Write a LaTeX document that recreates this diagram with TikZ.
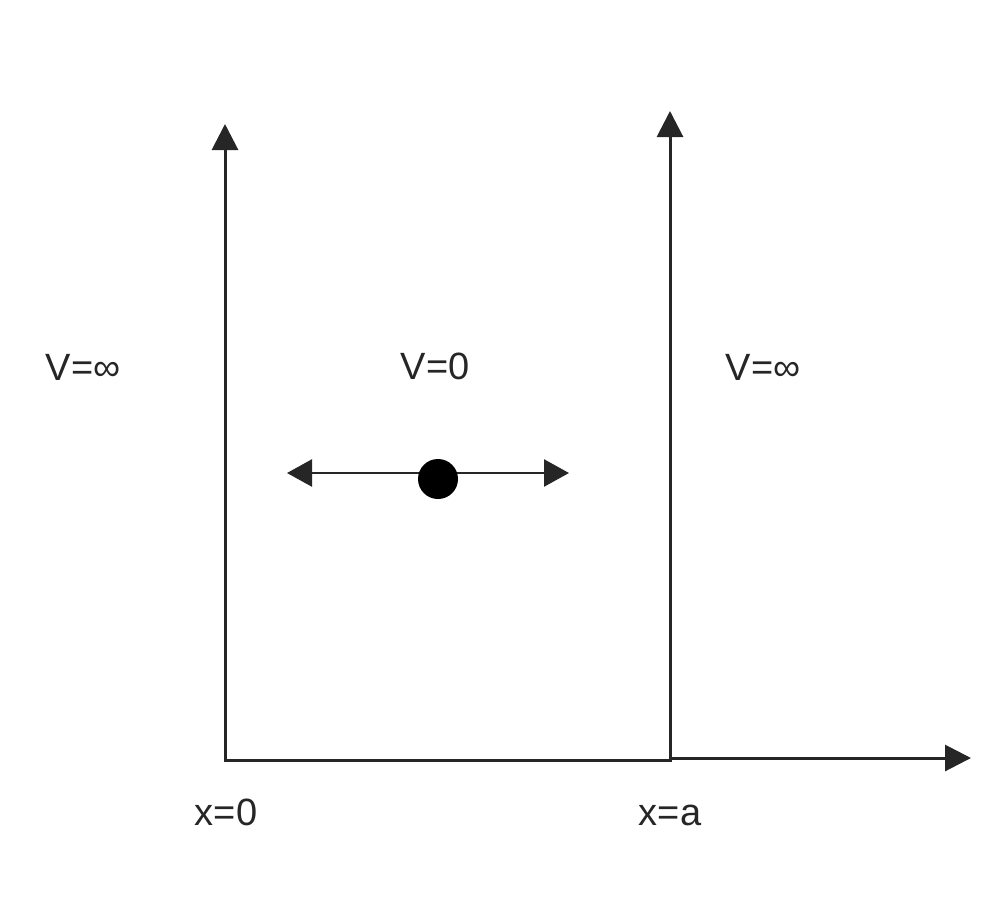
\documentclass[tikz,border=0pt]{standalone}
\usepackage{fontspec}
\setmainfont{Liberation Sans}
\usetikzlibrary{arrows.meta}
\begin{document}
\begin{tikzpicture}[x=1pt,y=-1pt,
  tip/.style={Triangle[width=26pt,length=26pt]},
  axis/.style={line width=3pt,line join=miter,draw=black!85},
  motion/.style={line width=2.5pt,draw=black!85,{Triangle[width=27pt,length=25pt]}-{Triangle[width=27pt,length=25pt]}},
  lbl/.style={font=\fontsize{38}{44}\selectfont,inner sep=0pt,text=black!85}]
\useasboundingbox (0,0) rectangle (1000,902);
\coordinate (o) at (225,760);
\coordinate (ltop) at (225,124);
\coordinate (a) at (670,760);
\coordinate (rtop) at (670,111);
\coordinate (a2) at (670,758);
\coordinate (xend) at (971,758);
\coordinate (mL) at (287,473);
\coordinate (mR) at (569,473);
\draw[axis,{Triangle[width=26pt,length=26pt]}-{Triangle[width=26pt,length=26pt]}] (ltop) -- (o) -- (a) -- (rtop);
\draw[axis,-{Triangle[width=26pt,length=26pt]}] (a2) -- (xend);
\draw[motion] (mL) -- (mR);
\node[circle,fill=black,minimum size=40pt,inner sep=0pt] (dot) at (438,479) {};
\node[lbl] (vl) at (83,367) {V=∞};
\node[lbl] (v0) at (435,366) {V=0};
\node[lbl] (vr) at (763,367) {V=∞};
\node[lbl] (x0) at (226,812) {x=0};
\node[lbl] (xa) at (670,815) {x=a};
\end{tikzpicture}
\end{document}
